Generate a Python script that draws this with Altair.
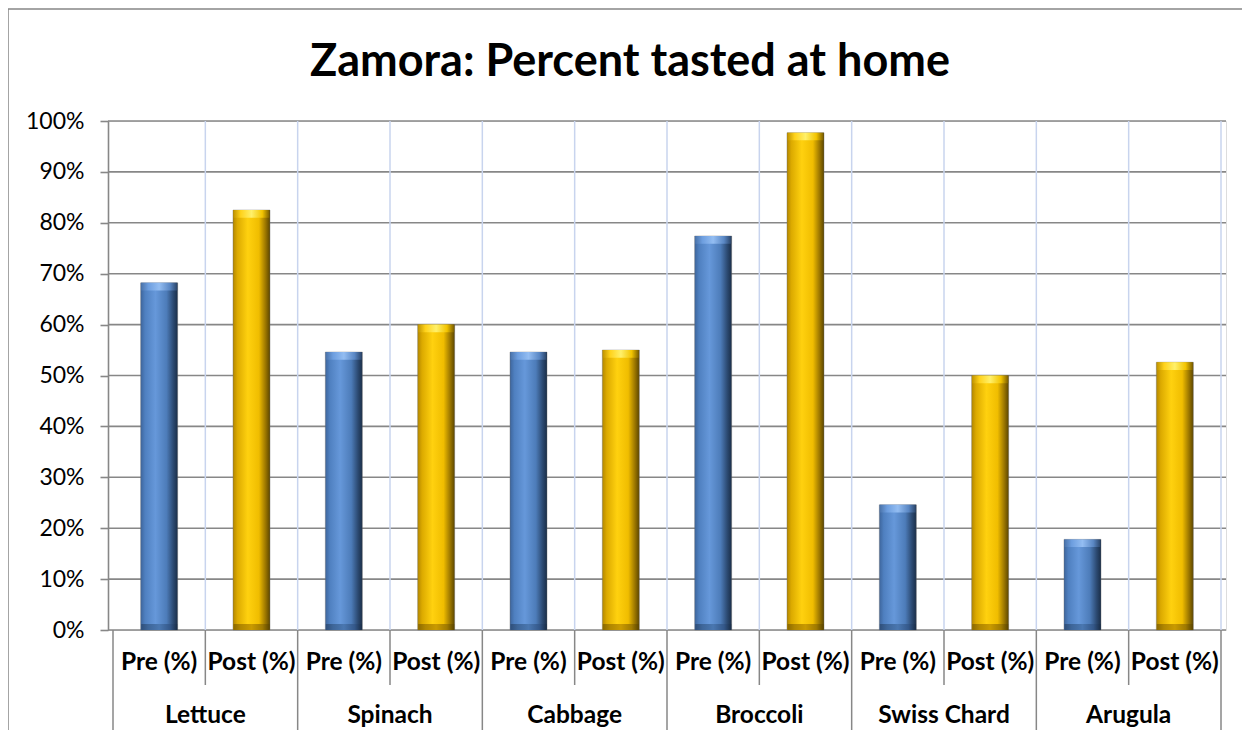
import altair as alt
import pandas as pd

# ---- data ----
vegetables = ["Lettuce", "Spinach", "Cabbage", "Broccoli", "Swiss Chard", "Arugula"]
phases = ["Pre (%)", "Post (%)"]
pre_values = [68.2, 54.6, 54.6, 77.4, 24.6, 17.8]
post_values = [82.5, 60.0, 55.0, 97.7, 50.0, 52.6]
y_ticks = [0, 10, 20, 30, 40, 50, 60, 70, 80, 90, 100]
title_text = "Zamora: Percent tasted at home"

W, H = 1118, 509
FONT = "Lato"

rows = []
for i, veg in enumerate(vegetables):
    for j, (ph, vals) in enumerate(zip(phases, [pre_values, post_values])):
        rows.append({"vegetable": veg, "phase": ph, "value": vals[i], "pos": 2 * i + j + 0.5})
bars_df = pd.DataFrame(rows)
group_df = pd.DataFrame({"vegetable": vegetables, "pos": [2 * i + 1 for i in range(len(vegetables))]})
n_slots = 2 * len(vegetables)
bounds_df = pd.DataFrame({"b": list(range(n_slots + 1))})
grid_df = pd.DataFrame({"value": y_ticks})
title_df = pd.DataFrame({"t": [title_text]})

xscale = alt.Scale(domain=[0, n_slots], nice=False, zero=False)
yscale = alt.Scale(domain=[0, 100], nice=False)
yaxis = alt.Axis(
    values=y_ticks, labelExpr="datum.value + '%'", grid=False,
    domainColor="#878787", domainWidth=1.6,
    tickColor="#878787", tickWidth=1.6, tickSize=8,
    labelFont=FONT, labelFontSize=23, labelColor="#000000",
    labelPadding=16, title=None,
)


def grad(stops, vertical=False):
    return alt.Gradient(
        gradient="linear", x1=0, x2=0 if vertical else 1, y1=0, y2=1 if vertical else 0,
        stops=[alt.GradientStop(offset=o, color=c) for o, c in stops],
    )


blue = grad([(0, "#3d659c"), (0.12, "#4f80c0"), (0.4, "#6698da"), (0.7, "#4d7cb9"), (0.88, "#2c4a72"), (1, "#1a2e48")])
gold = grad([(0, "#b38700"), (0.12, "#dcaa00"), (0.4, "#ffd10f"), (0.7, "#f0bd00"), (0.88, "#9b7600"), (1, "#5c4600")])
blue_top = grad([(0, "#4a73aa"), (0.2, "#6d9edf"), (0.5, "#93bdf2"), (0.8, "#5a87c4"), (1, "#2a4468")])
gold_top = grad([(0, "#c09400"), (0.2, "#ffd21a"), (0.5, "#fff06a"), (0.8, "#f3c400"), (1, "#7a5d00")])
blue_bot = grad([(0, "#2f4f7a"), (0.2, "#3e6699"), (0.5, "#4a77b0"), (0.8, "#34588a"), (1, "#1a2e48")])
gold_bot = grad([(0, "#8c6a00"), (0.2, "#b08600"), (0.5, "#c99a00"), (0.8, "#a07a00"), (1, "#5c4600")])

# horizontal grid (carries the y axis)
hgrid = alt.Chart(grid_df).mark_rule(color="#878787", strokeWidth=1.6).encode(
    y=alt.Y("value:Q", scale=yscale, axis=yaxis),
    x=alt.value(0), x2=alt.value(W),
)

# vertical light grid
vgrid = alt.Chart(bounds_df).transform_filter("datum.b >= 1").mark_rule(
    color="#c8d4ee", strokeWidth=1.5
).encode(
    x=alt.X("b:Q", scale=xscale, axis=None),
    y=alt.value(0), y2=alt.value(H),
)

BAR_W = 37


def bar_layers(phase, body, top, bot):
    base = alt.Chart(bars_df).transform_filter(alt.datum.phase == phase)
    main = base.mark_bar(size=BAR_W, color=body, stroke="#6b6b6b", strokeWidth=0.4).encode(
        x=alt.X("pos:Q", scale=xscale, axis=None),
        y=alt.Y("value:Q", scale=yscale, axis=yaxis),
        tooltip=["vegetable:N", "phase:N", "value:Q"],
    )
    cap = base.transform_calculate(cap_lo="datum.value - 1.5").mark_bar(
        size=BAR_W - 1, color=top
    ).encode(
        x=alt.X("pos:Q", scale=xscale, axis=None),
        y=alt.Y("value:Q", scale=yscale, axis=yaxis),
        y2="cap_lo:Q",
    )
    foot = base.transform_calculate(lo="0", hi="1.2").mark_bar(
        size=BAR_W - 1, color=bot
    ).encode(
        x=alt.X("pos:Q", scale=xscale, axis=None),
        y=alt.Y("hi:Q", scale=yscale, axis=yaxis),
        y2="lo:Q",
    )
    return [main, cap, foot]

pre_layers = bar_layers(phases[0], blue, blue_top, blue_bot)
post_layers = bar_layers(phases[1], gold, gold_top, gold_bot)

# category separators below the plot
short_sep = alt.Chart(bounds_df).transform_filter("datum.b % 2 == 1").mark_rule(
    color="#878787", strokeWidth=1.5
).encode(
    x=alt.X("b:Q", scale=xscale, axis=None),
    y=alt.value(H), y2=alt.value(H + 55),
)
long_sep = alt.Chart(bounds_df).transform_filter("datum.b % 2 == 0").mark_rule(
    color="#878787", strokeWidth=1.5
).encode(
    x=alt.X("b:Q", scale=xscale, axis=None),
    y=alt.value(H), y2=alt.value(H + 130),
)

phase_labels = alt.Chart(bars_df).mark_text(
    font=FONT, fontWeight="bold", fontSize=24.5, baseline="middle", align="center", color="#000000"
).encode(
    x=alt.X("pos:Q", scale=xscale, axis=None),
    y=alt.value(H + 33),
    text="phase:N",
)
group_labels = alt.Chart(group_df).mark_text(
    font=FONT, fontWeight="bold", fontSize=24.5, baseline="middle", align="center", color="#000000"
).encode(
    x=alt.X("pos:Q", scale=xscale, axis=None),
    y=alt.value(H + 86),
    text="vegetable:N",
)

title = alt.Chart(title_df).mark_text(
    font=FONT, fontWeight="bold", fontSize=45, baseline="alphabetic", align="center", color="#000000"
).encode(
    x=alt.value(522), y=alt.value(-45), text="t:N",
)

border = alt.Chart(title_df).mark_rect(
    filled=False, stroke="#878787", strokeWidth=1.5
).encode(
    x=alt.value(-100), y=alt.value(-112), x2=alt.value(W + 60), y2=alt.value(H + 160),
)

chart = alt.layer(
    hgrid, border, vgrid, *pre_layers, *post_layers, short_sep, long_sep,
    phase_labels, group_labels, title,
).properties(
    width=W, height=H,
    autosize=alt.AutoSizeParams(type="none"),
    padding={"left": 100, "top": 113, "right": 16, "bottom": 100},
).configure_view(stroke=None).configure(background="#ffffff")

chart.save("out.html", embed_options={"renderer": "svg", "actions": False})
